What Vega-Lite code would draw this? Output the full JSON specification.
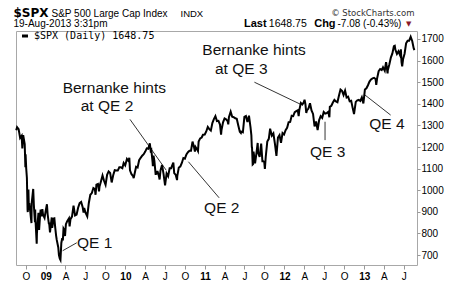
{
  "$schema": "https://vega.github.io/schema/vega-lite/v6.json",
  "width": 401,
  "height": 234,
  "autosize": {"type": "none"},
  "padding": {"left": 16, "top": 31, "right": 43, "bottom": 19},
  "background": "#ffffff",
  "config": {
    "view": {"stroke": "#a8a8a8", "strokeWidth": 1},
    "font": "Liberation Sans"
  },
  "datasets": {
    "spx": [
      {"date": "2008-08-18", "close": 1278}, {"date": "2008-08-22", "close": 1292}, {"date": "2008-08-29", "close": 1283},
      {"date": "2008-09-05", "close": 1242}, {"date": "2008-09-12", "close": 1252}, {"date": "2008-09-15", "close": 1193},
      {"date": "2008-09-19", "close": 1255}, {"date": "2008-09-26", "close": 1213}, {"date": "2008-09-29", "close": 1106},
      {"date": "2008-09-30", "close": 1166}, {"date": "2008-10-03", "close": 1099}, {"date": "2008-10-06", "close": 1057},
      {"date": "2008-10-09", "close": 910}, {"date": "2008-10-10", "close": 899}, {"date": "2008-10-13", "close": 1003},
      {"date": "2008-10-15", "close": 908}, {"date": "2008-10-17", "close": 940}, {"date": "2008-10-22", "close": 896},
      {"date": "2008-10-24", "close": 876}, {"date": "2008-10-27", "close": 848}, {"date": "2008-10-28", "close": 941},
      {"date": "2008-10-31", "close": 968}, {"date": "2008-11-04", "close": 1006}, {"date": "2008-11-07", "close": 930},
      {"date": "2008-11-12", "close": 852}, {"date": "2008-11-13", "close": 911}, {"date": "2008-11-14", "close": 873},
      {"date": "2008-11-20", "close": 752}, {"date": "2008-11-21", "close": 800}, {"date": "2008-11-25", "close": 857},
      {"date": "2008-11-28", "close": 896}, {"date": "2008-12-01", "close": 816}, {"date": "2008-12-05", "close": 876},
      {"date": "2008-12-08", "close": 910}, {"date": "2008-12-12", "close": 879}, {"date": "2008-12-16", "close": 913},
      {"date": "2008-12-19", "close": 887}, {"date": "2008-12-26", "close": 872}, {"date": "2008-12-31", "close": 903},
      {"date": "2009-01-06", "close": 935}, {"date": "2009-01-09", "close": 890}, {"date": "2009-01-15", "close": 843},
      {"date": "2009-01-16", "close": 850}, {"date": "2009-01-20", "close": 805}, {"date": "2009-01-23", "close": 832},
      {"date": "2009-01-28", "close": 874}, {"date": "2009-01-30", "close": 826}, {"date": "2009-02-06", "close": 869},
      {"date": "2009-02-09", "close": 870}, {"date": "2009-02-13", "close": 827}, {"date": "2009-02-17", "close": 790},
      {"date": "2009-02-20", "close": 770}, {"date": "2009-02-27", "close": 735}, {"date": "2009-03-02", "close": 700},
      {"date": "2009-03-06", "close": 683}, {"date": "2009-03-09", "close": 677}, {"date": "2009-03-13", "close": 756},
      {"date": "2009-03-17", "close": 778}, {"date": "2009-03-20", "close": 768}, {"date": "2009-03-23", "close": 823},
      {"date": "2009-03-27", "close": 816}, {"date": "2009-03-30", "close": 788}, {"date": "2009-04-03", "close": 843},
      {"date": "2009-04-09", "close": 857}, {"date": "2009-04-17", "close": 870}, {"date": "2009-04-20", "close": 833},
      {"date": "2009-04-24", "close": 866}, {"date": "2009-05-01", "close": 878}, {"date": "2009-05-08", "close": 929},
      {"date": "2009-05-15", "close": 883}, {"date": "2009-05-22", "close": 887}, {"date": "2009-05-29", "close": 919},
      {"date": "2009-06-05", "close": 940}, {"date": "2009-06-12", "close": 946}, {"date": "2009-06-19", "close": 921},
      {"date": "2009-06-23", "close": 896}, {"date": "2009-06-26", "close": 918}, {"date": "2009-07-02", "close": 896},
      {"date": "2009-07-10", "close": 879}, {"date": "2009-07-17", "close": 940}, {"date": "2009-07-24", "close": 979},
      {"date": "2009-07-31", "close": 987}, {"date": "2009-08-07", "close": 1010}, {"date": "2009-08-14", "close": 1005},
      {"date": "2009-08-17", "close": 979}, {"date": "2009-08-21", "close": 1026}, {"date": "2009-08-28", "close": 1029},
      {"date": "2009-09-02", "close": 995}, {"date": "2009-09-04", "close": 1016}, {"date": "2009-09-11", "close": 1042},
      {"date": "2009-09-18", "close": 1068}, {"date": "2009-09-25", "close": 1044}, {"date": "2009-10-02", "close": 1025},
      {"date": "2009-10-09", "close": 1071}, {"date": "2009-10-16", "close": 1087}, {"date": "2009-10-23", "close": 1080},
      {"date": "2009-10-30", "close": 1036}, {"date": "2009-11-06", "close": 1069}, {"date": "2009-11-13", "close": 1093},
      {"date": "2009-11-20", "close": 1091}, {"date": "2009-11-27", "close": 1091}, {"date": "2009-12-04", "close": 1106},
      {"date": "2009-12-11", "close": 1106}, {"date": "2009-12-18", "close": 1102}, {"date": "2009-12-24", "close": 1126},
      {"date": "2009-12-31", "close": 1115}, {"date": "2010-01-08", "close": 1145}, {"date": "2010-01-15", "close": 1136},
      {"date": "2010-01-19", "close": 1150}, {"date": "2010-01-22", "close": 1092}, {"date": "2010-01-29", "close": 1074},
      {"date": "2010-02-05", "close": 1066}, {"date": "2010-02-08", "close": 1056}, {"date": "2010-02-12", "close": 1075},
      {"date": "2010-02-19", "close": 1109}, {"date": "2010-02-26", "close": 1105}, {"date": "2010-03-05", "close": 1139},
      {"date": "2010-03-12", "close": 1150}, {"date": "2010-03-19", "close": 1160}, {"date": "2010-03-26", "close": 1167},
      {"date": "2010-04-02", "close": 1179}, {"date": "2010-04-09", "close": 1194}, {"date": "2010-04-16", "close": 1192},
      {"date": "2010-04-23", "close": 1217}, {"date": "2010-04-27", "close": 1183}, {"date": "2010-04-30", "close": 1187},
      {"date": "2010-05-06", "close": 1128}, {"date": "2010-05-07", "close": 1111}, {"date": "2010-05-10", "close": 1160},
      {"date": "2010-05-14", "close": 1136}, {"date": "2010-05-20", "close": 1071}, {"date": "2010-05-21", "close": 1087},
      {"date": "2010-05-25", "close": 1074}, {"date": "2010-05-28", "close": 1089}, {"date": "2010-06-04", "close": 1065},
      {"date": "2010-06-07", "close": 1050}, {"date": "2010-06-11", "close": 1092}, {"date": "2010-06-18", "close": 1117},
      {"date": "2010-06-25", "close": 1076}, {"date": "2010-07-02", "close": 1023}, {"date": "2010-07-09", "close": 1078},
      {"date": "2010-07-16", "close": 1065}, {"date": "2010-07-23", "close": 1102}, {"date": "2010-07-30", "close": 1102},
      {"date": "2010-08-06", "close": 1121}, {"date": "2010-08-09", "close": 1128}, {"date": "2010-08-13", "close": 1079},
      {"date": "2010-08-20", "close": 1071}, {"date": "2010-08-26", "close": 1047}, {"date": "2010-08-27", "close": 1065},
      {"date": "2010-09-03", "close": 1105}, {"date": "2010-09-10", "close": 1110}, {"date": "2010-09-17", "close": 1126},
      {"date": "2010-09-24", "close": 1149}, {"date": "2010-10-01", "close": 1146}, {"date": "2010-10-08", "close": 1166},
      {"date": "2010-10-15", "close": 1176}, {"date": "2010-10-22", "close": 1183}, {"date": "2010-10-29", "close": 1183},
      {"date": "2010-11-05", "close": 1225}, {"date": "2010-11-12", "close": 1199}, {"date": "2010-11-16", "close": 1179},
      {"date": "2010-11-19", "close": 1200}, {"date": "2010-11-26", "close": 1189}, {"date": "2010-11-30", "close": 1181},
      {"date": "2010-12-03", "close": 1225}, {"date": "2010-12-10", "close": 1240}, {"date": "2010-12-17", "close": 1244},
      {"date": "2010-12-23", "close": 1257}, {"date": "2010-12-31", "close": 1258}, {"date": "2011-01-07", "close": 1272},
      {"date": "2011-01-14", "close": 1293}, {"date": "2011-01-21", "close": 1283}, {"date": "2011-01-28", "close": 1276},
      {"date": "2011-02-04", "close": 1311}, {"date": "2011-02-11", "close": 1329}, {"date": "2011-02-18", "close": 1343},
      {"date": "2011-02-25", "close": 1320}, {"date": "2011-03-04", "close": 1321}, {"date": "2011-03-11", "close": 1304},
      {"date": "2011-03-16", "close": 1257}, {"date": "2011-03-18", "close": 1279}, {"date": "2011-03-25", "close": 1314},
      {"date": "2011-04-01", "close": 1332}, {"date": "2011-04-08", "close": 1328}, {"date": "2011-04-15", "close": 1320},
      {"date": "2011-04-18", "close": 1305}, {"date": "2011-04-21", "close": 1338}, {"date": "2011-04-29", "close": 1364},
      {"date": "2011-05-06", "close": 1340}, {"date": "2011-05-13", "close": 1338}, {"date": "2011-05-20", "close": 1333},
      {"date": "2011-05-27", "close": 1331}, {"date": "2011-06-03", "close": 1300}, {"date": "2011-06-10", "close": 1271},
      {"date": "2011-06-15", "close": 1265}, {"date": "2011-06-17", "close": 1271}, {"date": "2011-06-24", "close": 1268},
      {"date": "2011-07-01", "close": 1340}, {"date": "2011-07-08", "close": 1344}, {"date": "2011-07-15", "close": 1316},
      {"date": "2011-07-22", "close": 1345}, {"date": "2011-07-29", "close": 1292}, {"date": "2011-08-02", "close": 1254},
      {"date": "2011-08-04", "close": 1200}, {"date": "2011-08-05", "close": 1199}, {"date": "2011-08-08", "close": 1119},
      {"date": "2011-08-10", "close": 1121}, {"date": "2011-08-12", "close": 1179}, {"date": "2011-08-19", "close": 1124},
      {"date": "2011-08-26", "close": 1177}, {"date": "2011-08-31", "close": 1219}, {"date": "2011-09-02", "close": 1174},
      {"date": "2011-09-09", "close": 1154}, {"date": "2011-09-16", "close": 1216}, {"date": "2011-09-22", "close": 1130},
      {"date": "2011-09-23", "close": 1136}, {"date": "2011-09-30", "close": 1131}, {"date": "2011-10-03", "close": 1099},
      {"date": "2011-10-07", "close": 1155}, {"date": "2011-10-14", "close": 1225}, {"date": "2011-10-21", "close": 1238},
      {"date": "2011-10-27", "close": 1285}, {"date": "2011-11-04", "close": 1253}, {"date": "2011-11-11", "close": 1263},
      {"date": "2011-11-18", "close": 1216}, {"date": "2011-11-25", "close": 1159}, {"date": "2011-12-02", "close": 1244},
      {"date": "2011-12-09", "close": 1255}, {"date": "2011-12-16", "close": 1219}, {"date": "2011-12-23", "close": 1265},
      {"date": "2011-12-30", "close": 1258}, {"date": "2012-01-06", "close": 1278}, {"date": "2012-01-13", "close": 1289},
      {"date": "2012-01-20", "close": 1315}, {"date": "2012-01-27", "close": 1316}, {"date": "2012-02-03", "close": 1345},
      {"date": "2012-02-10", "close": 1343}, {"date": "2012-02-17", "close": 1361}, {"date": "2012-02-24", "close": 1366},
      {"date": "2012-03-02", "close": 1370}, {"date": "2012-03-06", "close": 1343}, {"date": "2012-03-09", "close": 1371},
      {"date": "2012-03-16", "close": 1404}, {"date": "2012-03-23", "close": 1397}, {"date": "2012-03-30", "close": 1408},
      {"date": "2012-04-02", "close": 1419}, {"date": "2012-04-06", "close": 1398}, {"date": "2012-04-10", "close": 1358},
      {"date": "2012-04-13", "close": 1370}, {"date": "2012-04-20", "close": 1378}, {"date": "2012-04-27", "close": 1403},
      {"date": "2012-05-04", "close": 1369}, {"date": "2012-05-11", "close": 1353}, {"date": "2012-05-18", "close": 1295},
      {"date": "2012-05-25", "close": 1318}, {"date": "2012-06-01", "close": 1278}, {"date": "2012-06-08", "close": 1325},
      {"date": "2012-06-15", "close": 1343}, {"date": "2012-06-22", "close": 1335}, {"date": "2012-06-29", "close": 1362},
      {"date": "2012-07-06", "close": 1355}, {"date": "2012-07-13", "close": 1357}, {"date": "2012-07-20", "close": 1363},
      {"date": "2012-07-25", "close": 1338}, {"date": "2012-07-27", "close": 1386}, {"date": "2012-08-03", "close": 1391},
      {"date": "2012-08-10", "close": 1406}, {"date": "2012-08-17", "close": 1418}, {"date": "2012-08-24", "close": 1411},
      {"date": "2012-08-31", "close": 1407}, {"date": "2012-09-07", "close": 1438}, {"date": "2012-09-14", "close": 1466},
      {"date": "2012-09-21", "close": 1460}, {"date": "2012-09-28", "close": 1441}, {"date": "2012-10-05", "close": 1461},
      {"date": "2012-10-12", "close": 1429}, {"date": "2012-10-19", "close": 1433}, {"date": "2012-10-26", "close": 1412},
      {"date": "2012-11-02", "close": 1414}, {"date": "2012-11-09", "close": 1380}, {"date": "2012-11-15", "close": 1353},
      {"date": "2012-11-16", "close": 1359}, {"date": "2012-11-23", "close": 1409}, {"date": "2012-11-30", "close": 1416},
      {"date": "2012-12-07", "close": 1418}, {"date": "2012-12-14", "close": 1413}, {"date": "2012-12-21", "close": 1430},
      {"date": "2012-12-28", "close": 1402}, {"date": "2013-01-04", "close": 1466}, {"date": "2013-01-11", "close": 1472},
      {"date": "2013-01-18", "close": 1486}, {"date": "2013-01-25", "close": 1503}, {"date": "2013-02-01", "close": 1513},
      {"date": "2013-02-08", "close": 1518}, {"date": "2013-02-15", "close": 1520}, {"date": "2013-02-22", "close": 1515},
      {"date": "2013-02-25", "close": 1488}, {"date": "2013-03-01", "close": 1518}, {"date": "2013-03-08", "close": 1551},
      {"date": "2013-03-15", "close": 1561}, {"date": "2013-03-22", "close": 1556}, {"date": "2013-03-28", "close": 1569},
      {"date": "2013-04-05", "close": 1553}, {"date": "2013-04-11", "close": 1593}, {"date": "2013-04-12", "close": 1588},
      {"date": "2013-04-18", "close": 1541}, {"date": "2013-04-19", "close": 1555}, {"date": "2013-04-26", "close": 1582},
      {"date": "2013-05-03", "close": 1614}, {"date": "2013-05-10", "close": 1633}, {"date": "2013-05-17", "close": 1667},
      {"date": "2013-05-21", "close": 1669}, {"date": "2013-05-24", "close": 1650}, {"date": "2013-05-31", "close": 1631},
      {"date": "2013-06-07", "close": 1643}, {"date": "2013-06-14", "close": 1626}, {"date": "2013-06-18", "close": 1652},
      {"date": "2013-06-21", "close": 1593}, {"date": "2013-06-24", "close": 1573}, {"date": "2013-06-28", "close": 1606},
      {"date": "2013-07-05", "close": 1632}, {"date": "2013-07-12", "close": 1680}, {"date": "2013-07-19", "close": 1692},
      {"date": "2013-07-26", "close": 1692}, {"date": "2013-08-02", "close": 1710}, {"date": "2013-08-09", "close": 1691},
      {"date": "2013-08-16", "close": 1656}, {"date": "2013-08-19", "close": 1648.75}
    ],
    "rulesBernanke": [
      {"d1": "2010-01-22", "v1": 1328, "d2": "2010-07-07", "v2": 1093},
      {"d1": "2011-08-16", "v1": 1500, "d2": "2012-03-12", "v2": 1399}
    ],
    "rulesQE": [
      {"d1": "2009-03-19", "v1": 720, "d2": "2009-05-23", "v2": 757},
      {"d1": "2010-10-17", "v1": 1132, "d2": "2011-03-07", "v2": 965},
      {"d1": "2012-07-05", "v1": 1317, "d2": "2012-07-05", "v2": 1232},
      {"d1": "2013-01-04", "v1": 1441, "d2": "2013-05-02", "v2": 1348}
    ],
    "textBernanke": [
      {"d": "2009-03-19", "v": 1474, "label": "Bernanke hints"},
      {"d": "2009-06-10", "v": 1390, "label": "at QE 2"},
      {"d": "2010-12-20", "v": 1649, "label": "Bernanke hints"},
      {"d": "2011-02-16", "v": 1561, "label": "at QE 3"}
    ],
    "textQE": [
      {"d": "2009-05-24", "v": 756, "label": "QE 1"},
      {"d": "2010-12-28", "v": 919, "label": "QE 2"},
      {"d": "2012-04-27", "v": 1175, "label": "QE 3"},
      {"d": "2013-01-24", "v": 1305, "label": "QE 4"}
    ]
  },
  "resolve": {"axis": {"x": "independent", "y": "independent"}},
  "layer": [
    {
      "data": {"name": "spx"},
      "mark": {"type": "line", "strokeWidth": 2, "interpolate": "linear"},
      "encoding": {
        "x": {
          "field": "date", "type": "temporal",
          "scale": {"domain": [{"year": 2008, "month": 8, "date": 17}, {"year": 2013, "month": 8, "date": 31}], "nice": false},
          "axis": {
            "orient": "bottom",
            "values": [
              {"year": 2008, "month": 10, "date": 1},
              {"year": 2009, "month": 1, "date": 1}, {"year": 2009, "month": 4, "date": 1}, {"year": 2009, "month": 7, "date": 1}, {"year": 2009, "month": 10, "date": 1},
              {"year": 2010, "month": 1, "date": 1}, {"year": 2010, "month": 4, "date": 1}, {"year": 2010, "month": 7, "date": 1}, {"year": 2010, "month": 10, "date": 1},
              {"year": 2011, "month": 1, "date": 1}, {"year": 2011, "month": 4, "date": 1}, {"year": 2011, "month": 7, "date": 1}, {"year": 2011, "month": 10, "date": 1},
              {"year": 2012, "month": 1, "date": 1}, {"year": 2012, "month": 4, "date": 1}, {"year": 2012, "month": 7, "date": 1}, {"year": 2012, "month": 10, "date": 1},
              {"year": 2013, "month": 1, "date": 1}, {"year": 2013, "month": 4, "date": 1}, {"year": 2013, "month": 7, "date": 1}
            ],
            "labelExpr": "month(datum.value) == 0 ? timeFormat(datum.value, '%y') : (month(datum.value) == 3 ? 'A' : (month(datum.value) == 6 ? 'J' : 'O'))",
            "labelFontWeight": {"condition": {"test": "month(datum.value) == 0", "value": "bold"}, "value": "normal"},
            "labelFont": "Liberation Sans", "labelFontSize": 10, "labelColor": "#000000",
            "labelFlush": false, "labelOverlap": false, "labelPadding": 2, "labelBaseline": "top",
            "tickColor": "#999999", "tickSize": 4, "domain": false, "grid": false,
            "title": "$SPX", "titleX": -3, "titleY": -249, "titleAlign": "left", "titleBaseline": "alphabetic", "titleAngle": 0,
            "titleFont": "DejaVu Sans", "titleFontWeight": "bold", "titleFontSize": 12, "titleColor": "#000000"
          }
        },
        "y": {
          "field": "close", "type": "quantitative",
          "scale": {"domain": [654, 1737], "nice": false, "zero": false},
          "axis": {
            "orient": "right",
            "values": [700, 800, 900, 1000, 1100, 1200, 1300, 1400, 1500, 1600, 1700],
            "format": "d",
            "labelFont": "Liberation Sans", "labelFontSize": 10, "labelColor": "#000000", "labelPadding": 1,
            "tickColor": "#999999", "tickSize": 3, "domain": false, "grid": false,
            "title": "© StockCharts.com", "titleX": -3, "titleY": -16, "titleAlign": "right", "titleBaseline": "alphabetic", "titleAngle": 0,
            "titleFont": "DejaVu Sans", "titleFontWeight": "normal", "titleFontSize": 8.5, "titleColor": "#333333"
          }
        },
        "stroke": {
          "datum": "$SPX (Daily) 1648.75",
          "scale": {"range": ["#000000"]},
          "legend": {
            "orient": "none", "legendX": 4, "legendY": 0, "title": null, "padding": 0,
            "symbolType": "stroke", "symbolSize": 36, "symbolStrokeWidth": 3,
            "labelFont": "DejaVu Sans Mono", "labelFontSize": 10, "labelColor": "#000000", "labelOffset": 4
          }
        }
      }
    },
    {
      "data": {"name": "rulesBernanke"},
      "mark": {"type": "rule", "color": "#000000", "strokeWidth": 0.8},
      "encoding": {
        "x": {"field": "d1", "type": "temporal", "axis": {
          "orient": "bottom", "labels": false, "ticks": false, "domain": false, "grid": false,
          "title": "S&P 500 Large Cap Index", "titleX": 35, "titleY": -249, "titleAlign": "left", "titleBaseline": "alphabetic", "titleAngle": 0,
          "titleFont": "Liberation Sans", "titleFontWeight": "normal", "titleFontSize": 10, "titleColor": "#000000"}},
        "y": {"field": "v1", "type": "quantitative", "axis": {
          "orient": "right", "labels": false, "ticks": false, "domain": false, "grid": false,
          "title": "INDX", "titleX": -237, "titleY": -15, "titleAlign": "left", "titleBaseline": "alphabetic", "titleAngle": 0,
          "titleFont": "Liberation Sans", "titleFontWeight": "normal", "titleFontSize": 9.5, "titleColor": "#000000"}},
        "x2": {"field": "d2"},
        "y2": {"field": "v2"}
      }
    },
    {
      "data": {"name": "rulesQE"},
      "mark": {"type": "rule", "color": "#000000", "strokeWidth": 0.8},
      "encoding": {
        "x": {"field": "d1", "type": "temporal", "axis": {
          "orient": "bottom", "labels": false, "ticks": false, "domain": false, "grid": false,
          "title": "19-Aug-2013 3:31pm", "titleX": -3, "titleY": -238.5, "titleAlign": "left", "titleBaseline": "alphabetic", "titleAngle": 0,
          "titleFont": "Liberation Sans", "titleFontWeight": "normal", "titleFontSize": 10, "titleColor": "#000000"}},
        "y": {"field": "v1", "type": "quantitative", "axis": {
          "orient": "right", "labels": false, "ticks": false, "domain": false, "grid": false,
          "title": "Last", "titleX": -173.5, "titleY": -4.5, "titleAlign": "left", "titleBaseline": "alphabetic", "titleAngle": 0,
          "titleFont": "Liberation Sans", "titleFontWeight": "bold", "titleFontSize": 11, "titleColor": "#000000"}},
        "x2": {"field": "d2"},
        "y2": {"field": "v2"}
      }
    },
    {
      "data": {"name": "textBernanke"},
      "mark": {"type": "text", "align": "left", "baseline": "middle", "font": "Liberation Sans", "fontSize": 15.5, "color": "#111111"},
      "encoding": {
        "x": {"field": "d", "type": "temporal", "axis": {
          "orient": "bottom", "labels": false, "ticks": false, "domain": false, "grid": false,
          "title": "1648.75", "titleX": 252.3, "titleY": -238.5, "titleAlign": "left", "titleBaseline": "alphabetic", "titleAngle": 0,
          "titleFont": "Liberation Sans", "titleFontWeight": "normal", "titleFontSize": 10.5, "titleColor": "#000000"}},
        "y": {"field": "v", "type": "quantitative", "axis": {
          "orient": "right", "labels": false, "ticks": false, "domain": false, "grid": false,
          "title": "Chg", "titleX": -103.3, "titleY": -4.5, "titleAlign": "left", "titleBaseline": "alphabetic", "titleAngle": 0,
          "titleFont": "Liberation Sans", "titleFontWeight": "bold", "titleFontSize": 11, "titleColor": "#000000"}},
        "text": {"field": "label"}
      }
    },
    {
      "data": {"name": "textQE"},
      "mark": {"type": "text", "align": "left", "baseline": "middle", "font": "Liberation Sans", "fontSize": 15.5, "color": "#111111"},
      "encoding": {
        "x": {"field": "d", "type": "temporal", "axis": {
          "orient": "bottom", "labels": false, "ticks": false, "domain": false, "grid": false,
          "title": "-7.08 (-0.43%)", "titleX": 321, "titleY": -238.5, "titleAlign": "left", "titleBaseline": "alphabetic", "titleAngle": 0,
          "titleFont": "Liberation Sans", "titleFontWeight": "normal", "titleFontSize": 10, "titleColor": "#000000"}},
        "y": {"field": "v", "type": "quantitative", "axis": {
          "orient": "right", "labels": false, "ticks": false, "domain": false, "grid": false,
          "title": "▼", "titleX": -11.5, "titleY": -5.5, "titleAlign": "left", "titleBaseline": "alphabetic", "titleAngle": 0,
          "titleFont": "DejaVu Sans", "titleFontWeight": "normal", "titleFontSize": 7, "titleColor": "#8b1a2a"}},
        "text": {"field": "label"}
      }
    }
  ]
}
